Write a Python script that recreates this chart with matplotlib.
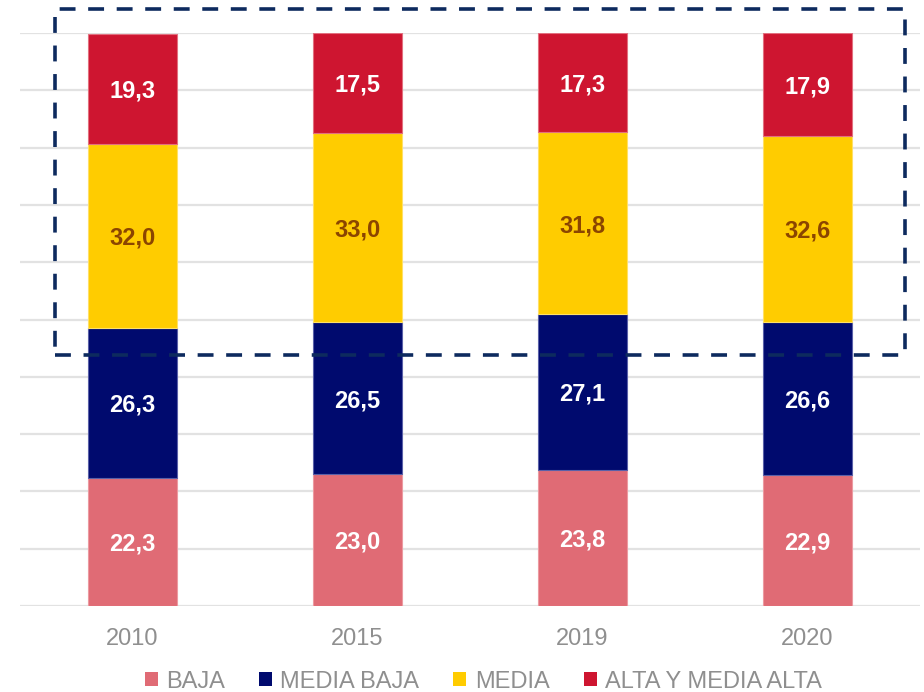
import matplotlib
matplotlib.use("Agg")
import matplotlib.pyplot as plt
import numpy as np
from matplotlib.patches import Rectangle

plt.rcParams['font.family'] = ['Liberation Sans', 'DejaVu Sans']

# data
years = ['2010', '2015', '2019', '2020']
baja = [22.3, 23.0, 23.8, 22.9]
media_baja = [26.3, 26.5, 27.1, 26.6]
media = [32.0, 33.0, 31.8, 32.6]
alta = [19.3, 17.5, 17.3, 17.9]

series_names = ['BAJA', 'MEDIA BAJA', 'MEDIA', 'ALTA Y MEDIA ALTA']
series = [baja, media_baja, media, alta]
colors = ['#E06B75', '#000A6E', '#FFCC00', '#CE1530']
edge_colors = ['#EC9AA1', '#5A60A8', '#FFE066', '#E2707F']
label_colors = ['white', 'white', '#8B4500', 'white']

fig = plt.figure(figsize=(9.24, 6.92), dpi=100)
ax = fig.add_axes([20/924, 86/692, 900/924, 573/692])

x = np.arange(len(years))
bottom = np.zeros(len(years))
for name, vals, c, ec, lc in zip(series_names, series, colors, edge_colors, label_colors):
    vals = np.array(vals)
    ax.bar(x, vals, width=0.395, bottom=bottom, color=c, edgecolor=ec,
           linewidth=0.8, label=name, zorder=3)
    for xi, b, v in zip(x, bottom, vals):
        ax.text(xi, b + v / 2 - 0.4, f"{v:.1f}".replace('.', ','), ha='center', va='center',
                color=lc, fontsize=17, fontweight='bold', zorder=4)
    bottom += vals

ax.set_xlim(-0.5, 3.5)
ax.set_ylim(0, 100)
ax.set_yticks(np.arange(0, 101, 10))
ax.yaxis.grid(True, color='#E2E2E2', linewidth=1.6, zorder=0)
ax.tick_params(axis='y', left=False, labelleft=False)
ax.set_xticks(x)
ax.set_xticklabels(years, color='#8F8F8F', fontsize=17)
ax.tick_params(axis='x', bottom=False, pad=12)
for s in ax.spines.values():
    s.set_visible(False)

# dashed highlight box around the two upper segments
box = Rectangle((-0.344, 43.8), 3.777, 60.4, fill=False, edgecolor='#0D2A5E',
                linewidth=2.6, linestyle=(0, (4.4, 3.5)), clip_on=False, zorder=5)
ax.add_patch(box)

leg = fig.legend(loc='center', bbox_to_anchor=(0.523, 0.015), ncol=4, frameon=False,
                 fontsize=17, handlelength=0.55, handleheight=0.55, handletextpad=0.35,
                 columnspacing=1.45, labelcolor='#8F8F8F')
for h in leg.legend_handles:
    h.set_linewidth(0)

fig.savefig('out.png', dpi=100)
